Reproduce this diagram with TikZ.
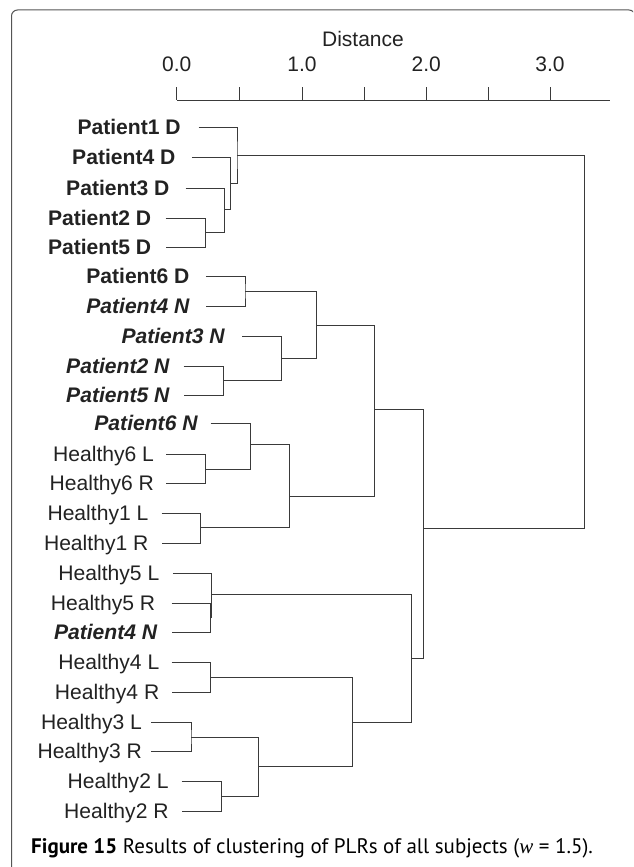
\documentclass[tikz,border=0pt]{standalone}
\usepackage{fontspec}
\setmainfont{Liberation Sans}
\newfontfamily\capfont{PT Sans}
\newfontfamily\wfont{Liberation Serif}
\definecolor{lc}{HTML}{3A3A3A}
\definecolor{tc}{HTML}{222222}
\definecolor{fc}{HTML}{555555}
\begin{document}
\begin{tikzpicture}[x=1pt,y=-1pt,
  dline/.style={draw=lc, line width=1pt},
  lab/.style={font=\fontsize{21.1}{24}\selectfont, text=tc, inner sep=0pt, anchor=base east},
  axlab/.style={font=\fontsize{21}{24}\selectfont, text=tc, inner sep=0pt, anchor=base},
  pb/.style={lab, font=\fontsize{21.1}{24}\selectfont\bfseries},
  pn/.style={lab, font=\fontsize{21.1}{24}\selectfont\bfseries\itshape}]
\useasboundingbox (0,0) rectangle (633,867);
\begin{scope}
\clip (0,0) rectangle (633,867);
\draw[fc, line width=1pt, rounded corners=6pt] (11.5,10) rectangle (635,900);
\end{scope}
% axis
\node[axlab] (dist) at (363,47) {Distance};
\node[axlab] (t0) at (176.8,71) {0.0};
\node[axlab] (t1) at (302,71) {1.0};
\node[axlab] (t2) at (426.3,71) {2.0};
\node[axlab] (t3) at (550,71) {3.0};
\draw[dline] (176.8,100) -- (609.6,100);
\foreach \x in {176.8,239.8,302,364,426.3,488.5,550} \draw[dline] (\x,87) -- (\x,100);
% leaves: label nodes and line starts
\node[pb] (l1) at (180.9,134.5) {Patient1 D}; \coordinate (s1) at (198.6,127);
\node[pb] (l2) at (175.6,164.5) {Patient4 D}; \coordinate (s2) at (191.8,157);
\node[pb] (l3) at (169.6,195.5) {Patient3 D}; \coordinate (s3) at (185.7,188);
\node[pb] (l4) at (151.4,225.5) {Patient2 D}; \coordinate (s4) at (165.5,218);
\node[pb] (l5) at (151.4,254.5) {Patient5 D}; \coordinate (s5) at (165.5,247);
\node[pb] (l6) at (189.7,283.5) {Patient6 D}; \coordinate (s6) at (205.9,276);
\node[pn] (l7) at (189.7,313.5) {Patient4 N}; \coordinate (s7) at (205.9,306);
\node[pn] (l8) at (224.9,343.5) {Patient3 N}; \coordinate (s8) at (242.2,336);
\node[pn] (l9) at (169.6,373.5) {Patient2 N}; \coordinate (s9) at (183.7,366);
\node[pn] (l10) at (169.6,402.5) {Patient5 N}; \coordinate (s10) at (183.7,395);
\node[pn] (l11) at (197.8,430.5) {Patient6 N}; \coordinate (s11) at (210.7,423);
\node[lab] (l12) at (154.2,461.5) {Healthy6 L}; \coordinate (s12) at (166.3,454);
\node[lab] (l13) at (154.2,490.5) {Healthy6 R}; \coordinate (s13) at (166.3,483);
\node[lab] (l14) at (148.6,520.5) {Healthy1 L}; \coordinate (s14) at (161.5,513);
\node[lab] (l15) at (148.6,550.5) {Healthy1 R}; \coordinate (s15) at (161.5,543);
\node[lab] (l16) at (159.5,580.5) {Healthy5 L}; \coordinate (s16) at (172.8,573);
\node[lab] (l17) at (155.4,610.5) {Healthy5 R}; \coordinate (s17) at (171.6,603);
\node[pn] (l18) at (157.4,639.5) {Patient4 N}; \coordinate (s18) at (171.6,632);
\node[lab] (l19) at (159.5,669.5) {Healthy4 L}; \coordinate (s19) at (171.6,662);
\node[lab] (l20) at (159.5,699.5) {Healthy4 R}; \coordinate (s20) at (171.6,692);
\node[lab] (l21) at (142.1,729.5) {Healthy3 L}; \coordinate (s21) at (151.4,722);
\node[lab] (l22) at (142.1,758.5) {Healthy3 R}; \coordinate (s22) at (151.4,751);
\node[lab] (l23) at (168.8,788.5) {Healthy2 L}; \coordinate (s23) at (181.7,781);
\node[lab] (l24) at (168.8,818.5) {Healthy2 R}; \coordinate (s24) at (181.7,811);
% junctions
\coordinate (jA) at (205.1,232);
\coordinate (jB) at (224.9,209);
\coordinate (jC) at (230.9,183);
\coordinate (jD) at (237,155);
\coordinate (jE) at (245,291);
\coordinate (jF) at (223.3,380);
\coordinate (jG) at (281.4,358);
\coordinate (jH) at (316.9,325);
\coordinate (jI) at (205.9,469);
\coordinate (jJ) at (250.3,444);
\coordinate (jK) at (200.6,527);
\coordinate (jL) at (289.9,496);
\coordinate (jM) at (374.2,409);
\coordinate (jN1) at (210.3,617);
\coordinate (jN2) at (211.7,594);
\coordinate (jO) at (210.7,677);
\coordinate (jP) at (191,737);
\coordinate (jQ) at (221.2,796);
\coordinate (jR) at (258.4,766);
\coordinate (jS) at (352.4,722);
\coordinate (jT) at (411.8,658);
\coordinate (jU) at (423.1,528);
\coordinate (jRoot) at (584.6,340);
\draw[dline] (s4) -| (jA) |- (s5);
\draw[dline] (s3) -| (jB) |- (jA);
\draw[dline] (s2) -| (jC) |- (jB);
\draw[dline] (s1) -| (jD) |- (jC);
\draw[dline] (s6) -| (jE) |- (s7);
\draw[dline] (s9) -| (jF) |- (s10);
\draw[dline] (s8) -| (jG) |- (jF);
\draw[dline] (jE) -| (jH) |- (jG);
\draw[dline] (s12) -| (jI) |- (s13);
\draw[dline] (s11) -| (jJ) |- (jI);
\draw[dline] (s14) -| (jK) |- (s15);
\draw[dline] (jJ) -| (jL) |- (jK);
\draw[dline] (jH) -| (jM) |- (jL);
\draw[dline] (s17) -| (jN1) |- (s18);
\draw[dline] (s16) -| (jN2) |- (jN1);
\draw[dline] (s19) -| (jO) |- (s20);
\draw[dline] (s21) -| (jP) |- (s22);
\draw[dline] (s23) -| (jQ) |- (s24);
\draw[dline] (jP) -| (jR) |- (jQ);
\draw[dline] (jO) -| (jS) |- (jR);
\draw[dline] (jN2) -| (jT) |- (jS);
\draw[dline] (jM) -| (jU) |- (jT);
\draw[dline] (jD) -| (jRoot) |- (jU);
% caption
\node[anchor=base west, inner sep=0pt, text=black, font=\capfont\fontsize{21}{24}\selectfont] (cap) at (31,853)
  {\textbf{Figure 15} Results of clustering of PLRs of all subjects ({\wfont\itshape w} = 1.5).};
\end{tikzpicture}
\end{document}
